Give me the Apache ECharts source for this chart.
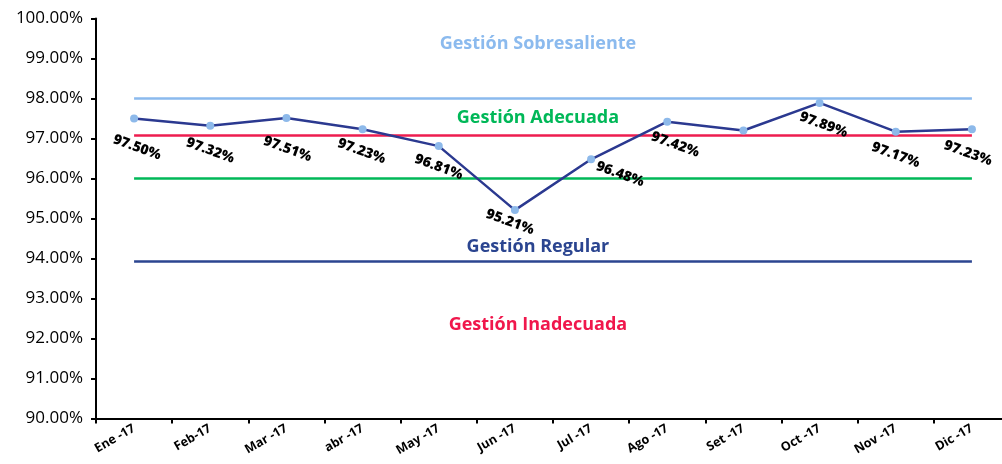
<!DOCTYPE html>
<html><head><meta charset="utf-8">
<script src="https://cdn.jsdelivr.net/npm/echarts@6/dist/echarts.min.js"></script>
<style>html,body{margin:0;padding:0;background:#fff;overflow:hidden}#c{width:1012px;height:464px}</style>
</head><body><div id="c"></div>
<script>
// ---- data ----
const categories = ['Ene -17','Feb-17','Mar -17','abr -17','May -17','Jun -17','Jul -17','Ago -17','Set -17','Oct -17','Nov -17','Dic -17'];
const values = [97.50, 97.32, 97.51, 97.23, 96.81, 95.21, 96.48, 97.42, 97.20, 97.89, 97.17, 97.23];
const showValueLabel = [true, true, true, true, true, true, true, true, false, true, true, true];
const yMin = 90, yMax = 100, yStep = 1;
const thresholdValues = [98, 97.08, 96, 93.92];
const zoneNames = ['Gestión Sobresaliente', 'Gestión Adecuada', 'Gestión Regular', 'Gestión Inadecuada'];
const zoneLabelY = [99.37, 97.52, 94.30, 92.34];

// ---- styles ----
const thresholdColors = ['#8BBAEE', '#EE1D4F', '#00B858', '#2B4590'];
const zoneColors = ['#8BBAEE', '#00B858', '#2B4590', '#F0174C'];
const FONT = 'Open Sans';
const LABEL_ROT = -20;
// visual nudges (px) of each value label relative to its point, as in the original
const labelNudge = [[3,29],[0,25],[1,31],[-1,22],[0,21],[-5,12],[29,15],[8,23],[0,23],[4,22],[0,23.5],[-4,24]];

function toRotatedOffset(d) {
  // ECharts rotates the label (and its offset) around the anchor point
  const t = -LABEL_ROT * Math.PI / 180;
  const c = Math.cos(t), s = Math.sin(t);
  return [d[0] * c + d[1] * s, -d[0] * s + d[1] * c];
}

const chart = echarts.init(document.getElementById('c'), null, {renderer: 'canvas'});

const markLineData = thresholdValues.map((v, i) => [
  {coord: [0, v], lineStyle: {color: thresholdColors[i], width: 2.5, type: 'solid'}},
  {coord: [categories.length - 1, v]}
]);

const markPointData = zoneNames.map((n, i) => ({
  name: n,
  coord: [5, zoneLabelY[i]],
  label: {color: zoneColors[i]}
}));

chart.setOption({
  animation: false,
  backgroundColor: '#fff',
  grid: {left: 96, top: 18.5, height: 400, width: 914},
  xAxis: {
    type: 'category',
    data: categories,
    boundaryGap: true,
    axisLine: {lineStyle: {color: '#000', width: 2}},
    axisTick: {show: true, length: 5, lineStyle: {color: '#000', width: 2}, interval: 0},
    axisLabel: {
      interval: 0, rotate: 30, margin: 9,
      color: '#000', fontFamily: FONT, fontWeight: 'bold', fontSize: 12.5
    },
    splitLine: {show: false}
  },
  yAxis: {
    type: 'value',
    min: yMin, max: yMax, interval: yStep,
    axisLine: {show: true, lineStyle: {color: '#000', width: 2}},
    axisTick: {show: true, length: 5, lineStyle: {color: '#000', width: 2}},
    axisLabel: {
      margin: 13, color: '#000', fontFamily: FONT, fontSize: 17,
      formatter: v => v.toFixed(2) + '%'
    },
    splitLine: {show: false}
  },
  series: [{
    type: 'line',
    data: values.map((v, i) => ({
      value: v,
      label: {show: showValueLabel[i], offset: toRotatedOffset(labelNudge[i])}
    })),
    symbol: 'circle',
    symbolSize: 8,
    z: 5,
    lineStyle: {color: '#2B3990', width: 2.5},
    itemStyle: {color: '#8DB9EA'},
    label: {
      show: true,
      position: 'inside',
      align: 'center', verticalAlign: 'middle',
      rotate: LABEL_ROT,
      color: '#000', fontFamily: FONT, fontWeight: 800, fontSize: 14,
      formatter: p => p.value.toFixed(2) + '%'
    },
    markLine: {
      silent: true, symbol: ['none', 'none'], z: 1,
      label: {show: false},
      data: markLineData
    },
    markPoint: {
      silent: true,
      symbol: 'circle', symbolSize: 0,
      label: {
        show: true, position: 'inside', offset: [23, 0],
        fontFamily: FONT, fontWeight: 'bold', fontSize: 18,
        formatter: p => p.name
      },
      data: markPointData
    }
  }]
});
</script>
</body></html>
